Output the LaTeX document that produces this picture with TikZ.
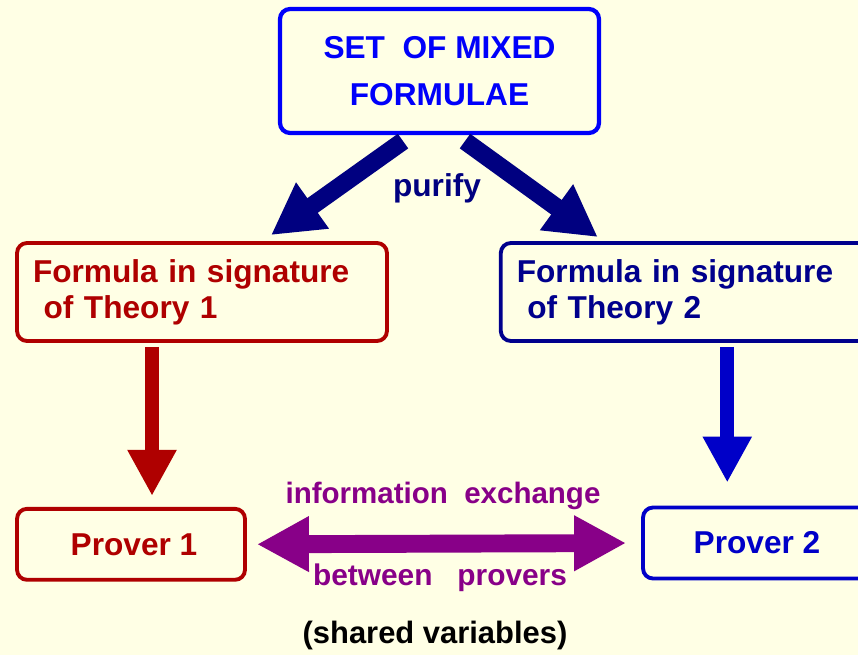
\documentclass[tikz,border=0pt]{standalone}
\usepackage{fontspec}
\setmainfont{Liberation Sans}
\usetikzlibrary{arrows.meta,positioning}
\definecolor{bgcream}{RGB}{255,255,229}
\definecolor{setblue}{RGB}{0,0,250}
\definecolor{navy}{RGB}{0,0,128}
\definecolor{thblue}{RGB}{0,0,140}
\definecolor{pvblue}{RGB}{0,0,200}
\definecolor{thred}{RGB}{175,0,0}
\definecolor{xpurple}{RGB}{136,0,136}

\begin{document}
\begin{tikzpicture}[
  x=0.02cm, y=-0.02cm,
  font=\bfseries\fontsize{18}{20.5}\selectfont,
  box/.style={draw, line width=2.2pt, rounded corners=0.2cm, inner sep=0pt},
  thbox/.style={box, text width=6.76cm, inner xsep=0.32cm, align=left,
    minimum height=1.96cm},
  pvbox/.style={box, minimum width=4.56cm, minimum height=1.42cm},
  purarr/.style={-{Triangle[length=1.02cm, width=1.06cm]}, navy, line width=10.2pt},
  downarr/.style={-{Triangle[length=0.92cm, width=0.92cm]}, line width=7.9pt},
  xarr/.style={{Triangle[length=1.04cm, width=1.04cm]}-{Triangle[length=1.04cm, width=1.04cm]},
    xpurple, line width=10.2pt},
  lbl/.style={inner sep=0pt, font=\bfseries\fontsize{16.8}{19}\selectfont}
]
\useasboundingbox[fill=bgcream] (0,0) rectangle (858,655);

\node[box, setblue, line width=2.4pt, minimum width=6.38cm, minimum height=2.48cm,
  align=center, font=\bfseries\fontsize{18}{26.7}\selectfont] (mixed) at (439.5,71)
  {SET~~OF MIXED\\FORMULAE};
\node[thbox, thred] (theo1) at (202,292) {Formula in signature\\~of Theory 1};
\node[thbox, thblue, right=2.2cm of theo1] (theo2) {Formula in signature\\~of Theory 2};
\node[pvbox, thred, below=3.28cm of theo1.south west, anchor=north west] (prov1)
  {\hspace{0.12cm}Prover 1};
\node[pvbox, pvblue] (prov2) at (757,543) {Prover 2};

% purification
\draw[purarr] ([xshift=-0.73cm, yshift=-0.12cm]mixed.south) -- ([xshift=1.38cm, yshift=0.12cm]theo1.north);
\draw[purarr] ([xshift=0.51cm, yshift=-0.12cm]mixed.south) -- ([xshift=-1.76cm, yshift=0.08cm]theo2.north);
\node[lbl, navy, font=\bfseries\fontsize{18}{20}\selectfont] (pur) at (437,188) {purify};

\coordinate (d1) at ([xshift=-1cm]theo1.south);
\coordinate (d2) at ([xshift=0.83cm]theo2.south);
\draw[downarr, thred] ([yshift=-0.08cm]d1) -- ([yshift=0.22cm]prov1.north -| d1);
\draw[downarr, pvblue] ([yshift=-0.08cm]d2) -- ([yshift=0.46cm]prov2.north -| d2);

% exchange between the provers
\draw[xarr, shorten <=0.2cm, shorten >=0.3cm] (prov1.east) -- (prov2.west);
\node[lbl, xpurple] (info) at (443,496) {information~~exchange};
\node[lbl, xpurple, font=\bfseries\fontsize{17}{19}\selectfont] (betw) at (440,578) {between~~~provers};
\node[lbl, font=\bfseries\fontsize{17.6}{20}\selectfont] (shared) at (435,635) {(shared variables)};
\end{tikzpicture}
\end{document}
